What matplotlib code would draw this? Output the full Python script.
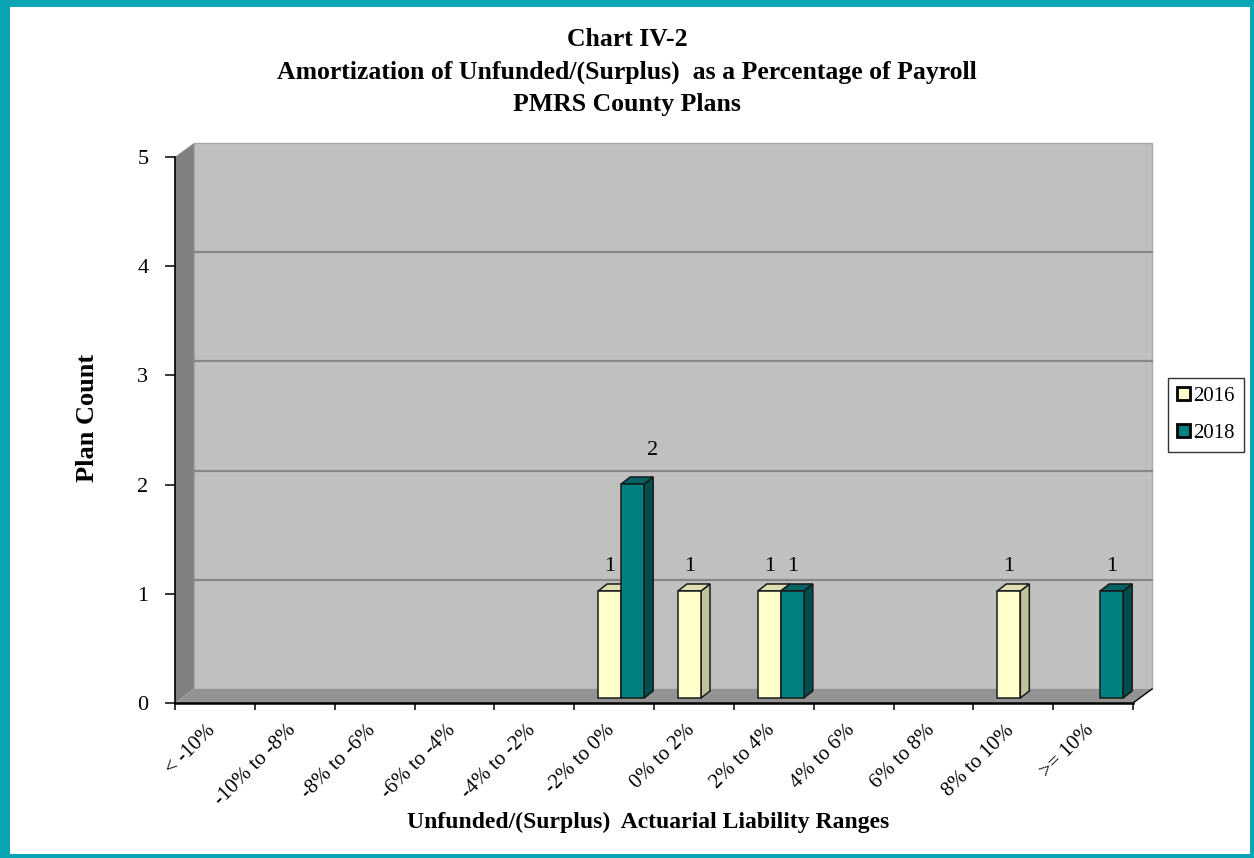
import matplotlib
matplotlib.use("Agg")
import matplotlib.pyplot as plt
import matplotlib.transforms as mtransforms
from matplotlib.patches import Polygon, Rectangle, Patch

# --- data -------------------------------------------------------------
ranges = ['< -10%', '-10% to -8%', '-8% to -6%', '-6% to -4%', '-4% to -2%',
          '-2% to 0%', '0% to 2%', '2% to 4%', '4% to 6%', '6% to 8%',
          '8% to 10%', '>= 10%']
years = ['2016', '2018']
count_2016 = [0, 0, 0, 0, 0, 1, 1, 1, 0, 0, 1, 0]
count_2018 = [0, 0, 0, 0, 0, 2, 0, 1, 0, 0, 0, 1]

title_lines = ['Chart IV-2',
               'Amortization of Unfunded/(Surplus)  as a Percentage of Payroll',
               'PMRS County Plans']

# --- styles -----------------------------------------------------------
serif = 'Liberation Serif'
front_col = ['#FFFFCC', '#008080']
side_col = ['#C2C29A', '#004D4D']
top_col = ['#DEDEB2', '#006363']
frame_col = '#0AA5B5'

W, H = 1254, 858
fig = plt.figure(figsize=(W / 100, H / 100), dpi=100)

# axes covers the front plane of the 3d box (pixel box 175..1133, 157..703)
ax = fig.add_axes([175 / W, 1 - 703 / H, 958 / W, 546 / H])
n = len(ranges)
ymax = 5
ax.set_xlim(0, n)
ax.set_ylim(0, ymax)
ax.set_facecolor('none')

px_x = 958 / n      # pixels per category
px_y = 546 / ymax   # pixels per count

# depth of the walls and of the bars
DX, DY = 19 / px_x, 14 / px_y
BY = 5 / px_y
bdx, bdy = 9 / px_x, 7 / px_y
bar_w = 23 / px_x
bar_start = 24 / px_x
persp = 0.98

# walls and floor
ax.add_patch(Polygon([(0, 0), (DX, DY), (DX, ymax + DY), (0, ymax)],
                     closed=True, facecolor='#808080', edgecolor='none',
                     clip_on=False, zorder=0))
ax.add_patch(Rectangle((DX, DY), n, ymax, facecolor='#C0C0C0',
                       edgecolor='#A8A8A8', lw=1, clip_on=False, zorder=0))
ax.add_patch(Polygon([(0, 0), (n, 0), (n + DX, DY), (DX, DY)], closed=True,
                     facecolor='#939393', edgecolor='none', clip_on=False,
                     zorder=0.5))
ax.plot([n, n + DX], [0, DY], color='black', lw=1, clip_on=False, zorder=1)
for k in range(1, ymax):
    ax.plot([DX, n + DX], [k + DY, k + DY], color='#878787', lw=1.6,
            clip_on=False, zorder=0.6)

# bars
label_nudge = {(5, 1): (0.25, 0.09)}
for j, vals in enumerate([count_2016, count_2018]):
    for i, v in enumerate(vals):
        if v <= 0:
            continue
        x0 = i + bar_start + j * bar_w
        y0 = BY
        h = v * persp
        z = 2 + i + j * 0.5
        ax.add_patch(Polygon([(x0 + bar_w, y0), (x0 + bar_w + bdx, y0 + bdy),
                              (x0 + bar_w + bdx, y0 + h + bdy), (x0 + bar_w, y0 + h)],
                             closed=True, facecolor=side_col[j], edgecolor='#1a1a1a',
                             lw=1.1, clip_on=False, zorder=z))
        ax.add_patch(Polygon([(x0, y0 + h), (x0 + bdx, y0 + h + bdy),
                              (x0 + bar_w + bdx, y0 + h + bdy), (x0 + bar_w, y0 + h)],
                             closed=True, facecolor=top_col[j], edgecolor='#1a1a1a',
                             lw=1.1, clip_on=False, zorder=z))
        ax.add_patch(Rectangle((x0, y0), bar_w, h, facecolor=front_col[j],
                               edgecolor='#1a1a1a', lw=1.1, clip_on=False,
                               zorder=z + 0.1))
        nx, ny = label_nudge.get((i, j), (0, 0))
        ax.text(x0 + bar_w / 2 + nx, y0 + h + 0.22 + ny, str(v), ha='center',
                va='center', fontsize=16, family=serif, zorder=30)

# axes lines and ticks
for s in ['top', 'right']:
    ax.spines[s].set_visible(False)
ax.spines['left'].set_linewidth(1.2)
ax.spines['bottom'].set_linewidth(1.8)
ax.spines['left'].set_zorder(1)
ax.spines['bottom'].set_zorder(1)
ax.set_yticks(range(ymax + 1))
ax.set_yticklabels([str(k) for k in range(ymax + 1)], family=serif, fontsize=16)
ax.tick_params(axis='y', length=7.2, width=1.1, pad=12)
ax.set_xticks(range(n + 1))
ax.set_xticklabels([])
ax.tick_params(axis='x', which='major', length=5, width=1.1)
ax.set_xticks([i + 0.5 for i in range(n)], minor=True)
ax.set_xticklabels(ranges, minor=True, rotation=45, ha='right',
                   family=serif, fontsize=15)
ax.tick_params(axis='x', which='minor', length=0, pad=13)
shift = mtransforms.ScaledTranslation(5 / 100, 0, fig.dpi_scale_trans)
for lbl in ax.get_xticklabels(minor=True):
    lbl.set_transform(lbl.get_transform() + shift)

# titles
for k, line in enumerate(title_lines):
    fig.text(627 / W, 1 - (40 + 32 * k) / H, line, ha='center', va='center',
             family=serif, fontweight='bold', fontsize=18.5)
fig.text(87 / W, 1 - 418 / H, 'Plan Count', rotation=90, ha='center',
         va='center', family=serif, fontweight='bold', fontsize=19)
fig.text(648 / W, 1 - 822 / H, 'Unfunded/(Surplus)  Actuarial Liability Ranges',
         ha='center', va='center', family=serif, fontweight='bold', fontsize=17)

# legend
handles = [Patch(facecolor=front_col[j], edgecolor='black', lw=2) for j in range(2)]
leg = fig.legend(handles, years, loc='center',
                 bbox_to_anchor=(1206 / W, 1 - 415 / H),
                 prop={'family': serif, 'size': 15}, frameon=True,
                 fancybox=False, handlelength=0.6, handleheight=0.6,
                 handletextpad=0.15, borderpad=0.45, labelspacing=0.85,
                 borderaxespad=0)
leg.get_frame().set_edgecolor('black')
leg.get_frame().set_linewidth(1)

# outer frame
for (x, y, w, h) in [(0, 0, 10, H), (0, 0, W, 7), (W - 4, 0, 4, H), (0, H - 4, W, 4)]:
    fig.patches.append(Rectangle((x / W, 1 - (y + h) / H), w / W, h / H,
                                 transform=fig.transFigure, facecolor=frame_col,
                                 edgecolor='none', zorder=50))

fig.savefig('out.png', dpi=100)
